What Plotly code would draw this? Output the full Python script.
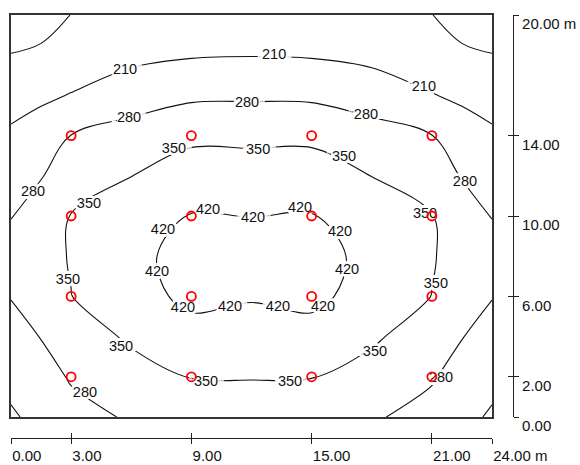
import plotly.graph_objects as go

# ---- data (illuminance in lx, room 24 m x 20 m) ----
GRID_X = [0, 1.5, 3, 6, 9, 12, 15, 18, 21, 22.5, 24]
GRID_Y = [0, 2, 4, 6, 8, 10, 12, 14, 16, 18, 20]
LUX = [
    [203, 226, 255, 288, 305, 315, 305, 288, 255, 226, 203],   # y = 0
    [226, 250, 287, 330, 352, 353, 352, 330, 287, 250, 226],   # y = 2
    [260, 282, 322, 358, 398, 392, 398, 358, 322, 282, 260],   # y = 4
    [282, 318, 349, 395, 435, 425, 435, 395, 349, 318, 282],   # y = 6
    [292, 328, 354, 405, 440, 435, 440, 405, 354, 328, 292],   # y = 8
    [279, 318, 352, 388, 423, 419, 423, 388, 352, 318, 279],   # y = 10
    [250, 276, 318, 349, 385, 384, 385, 349, 318, 276, 250],   # y = 12
    [220, 242, 281, 305, 335, 334, 335, 305, 281, 242, 220],   # y = 14
    [185, 198, 213, 250, 268, 270, 268, 250, 213, 198, 185],   # y = 16
    [142, 150, 170, 192, 205, 208, 205, 192, 170, 150, 142],   # y = 18
    [100, 116, 141, 148, 155, 160, 155, 148, 141, 116, 100],   # y = 20
]
LEVEL_START = 140
LEVEL_END = 420
LEVEL_STEP = 70

# isoline labels (position in m, text) as printed on the reference
LABEL_X = [5.69, 13.13, 20.6,
           5.89, 11.78, 17.71, 1.10, 22.65, 3.69, 21.46,
           8.13, 12.33, 16.62, 3.89, 20.66, 21.2, 2.84, 5.49, 18.16, 9.73, 13.92,
           9.83, 12.08, 14.42, 16.42, 16.77, 15.57, 13.32, 10.93, 8.58, 7.29, 7.58]
LABEL_Y = [17.26, 18.0, 16.4,
           14.88, 15.62, 15.02, 11.19, 11.69, 1.19, 1.94,
           13.33, 13.28, 12.94, 10.6, 10.1, 6.6, 6.8, 3.48, 3.23, 1.74, 1.74,
           10.3, 9.9, 10.4, 9.2, 7.31, 5.47, 5.47, 5.47, 5.42, 7.21, 9.3]
LABEL_TEXT = ["210"] * 3 + ["280"] * 7 + ["350"] * 11 + ["420"] * 11

LUM_X = [3, 9, 15, 21]
LUM_Y = [2, 6, 10, 14]

X_TICKS = [0, 3, 9, 15, 21, 24]
X_TICK_TEXT = ["0.00", "3.00", "9.00", "15.00", "21.00", "24.00 m"]
Y_TICKS = [0, 2, 6, 10, 14, 20]
Y_TICK_TEXT = ["0.00", "2.00", "6.00", "10.00", "14.00", "20.00 m"]

FONT = "Liberation Sans, Arial, sans-serif"
INK = "#222222"
HALO = ", ".join(f"{dx}px {dy}px 0 white" for dx, dy in
                 [(4, 0), (-4, 0), (0, 3), (0, -3), (2, 2), (-2, 2), (2, -2), (-2, -2),
                  (6, 0), (-6, 0), (1, 0), (-1, 0), (0, 1), (0, -1)])

lum_px = [x for y in LUM_Y for x in LUM_X]
lum_py = [y for y in LUM_Y for x in LUM_X]

fig = go.Figure()

fig.add_trace(go.Contour(
    x=GRID_X, y=GRID_Y, z=LUX,
    contours=dict(start=LEVEL_START, end=LEVEL_END, size=LEVEL_STEP,
                  coloring="none", showlabels=False),
    line=dict(color="#111111", width=1.1, smoothing=1.0),
    showscale=False, hoverinfo="skip",
))

fig.add_trace(go.Scatter(
    x=LABEL_X, y=LABEL_Y, text=LABEL_TEXT, mode="text",
    textposition="middle center",
    textfont=dict(family=FONT, size=14.5, color="#111111", shadow=HALO),
    hoverinfo="skip", showlegend=False,
))

fig.add_trace(go.Scatter(
    x=lum_px, y=lum_py, mode="markers",
    marker=dict(symbol="circle-open", size=9, color="red", line=dict(width=1.8, color="red")),
    hoverinfo="skip", showlegend=False,
))

# invisible helpers so the ruler axes are drawn
fig.add_trace(go.Scatter(x=[X_TICKS[0], X_TICKS[-1]], y=[Y_TICKS[0], Y_TICKS[0]], xaxis="x2", yaxis="y",
                         mode="markers", marker=dict(opacity=0), hoverinfo="skip", showlegend=False))
fig.add_trace(go.Scatter(x=[X_TICKS[0], X_TICKS[-1]], y=[Y_TICKS[0], Y_TICKS[0]], xaxis="x3", yaxis="y",
                         mode="markers", marker=dict(opacity=0), hoverinfo="skip", showlegend=False))
fig.add_trace(go.Scatter(x=[X_TICKS[0], X_TICKS[0]], y=[Y_TICKS[0], Y_TICKS[-1]], xaxis="x", yaxis="y2",
                         mode="markers", marker=dict(opacity=0), hoverinfo="skip", showlegend=False))
fig.add_trace(go.Scatter(x=[X_TICKS[0], X_TICKS[0]], y=[Y_TICKS[0], Y_TICKS[-1]], xaxis="x", yaxis="y3",
                         mode="markers", marker=dict(opacity=0), hoverinfo="skip", showlegend=False))

W, H = 580, 465
ML, MR, MT, MB = 11, 60, 15, 24
pw = W - ML - MR
ph = H - MT - MB
plot_right = 492
plot_bottom = 417
x_dom = [0, (plot_right - ML) / pw]
y_dom = [(H - MB - plot_bottom) / ph, 1]
ruler_x_pos = (H - MB - 438) / ph
ruler_y_pos = (513 - ML) / pw

frame = dict(showline=True, mirror=True, linecolor="#333333", linewidth=1.5,
             showgrid=False, zeroline=False, showticklabels=False, ticks="",
             automargin=False, fixedrange=True)

ruler_common = dict(showline=True, linecolor=INK, linewidth=1.2, tickcolor=INK, tickwidth=1.2,
                    ticklen=5, showgrid=False, zeroline=False, automargin=False,
                    fixedrange=True, anchor="free")

fig.update_layout(
    width=W, height=H, autosize=False,
    margin=dict(l=ML, r=MR, t=MT, b=MB, pad=0),
    paper_bgcolor="white", plot_bgcolor="white",
    showlegend=False, hovermode=False,
    font=dict(family=FONT, size=15, color="#111111"),
    xaxis=dict(range=[0, 24], domain=x_dom, **frame),
    yaxis=dict(range=[0, 20], domain=y_dom, **frame),
    xaxis2=dict(overlaying="x", range=[0, 24], position=ruler_x_pos, side="bottom",
                tickvals=X_TICKS, ticktext=X_TICK_TEXT, ticks="outside",
                ticklabelposition="outside right", ticklabelstandoff=4,
                tickfont=dict(family=FONT, size=15, color="#111111"), **ruler_common),
    xaxis3=dict(overlaying="x", range=[0, 24], position=ruler_x_pos, side="bottom",
                tickvals=X_TICKS, ticks="inside", showticklabels=False, **ruler_common),
    yaxis2=dict(overlaying="y", range=[0, 20], position=ruler_y_pos, side="right",
                tickvals=Y_TICKS, ticktext=Y_TICK_TEXT, ticks="outside",
                ticklabelposition="outside bottom", ticklabelstandoff=5, ticklabelshift=-2,
                tickfont=dict(family=FONT, size=15, color="#111111"), **ruler_common),
    yaxis3=dict(overlaying="y", range=[0, 20], position=ruler_y_pos, side="right",
                tickvals=Y_TICKS, ticks="inside", showticklabels=False, **ruler_common),
)

fig.write_html("out.html")
